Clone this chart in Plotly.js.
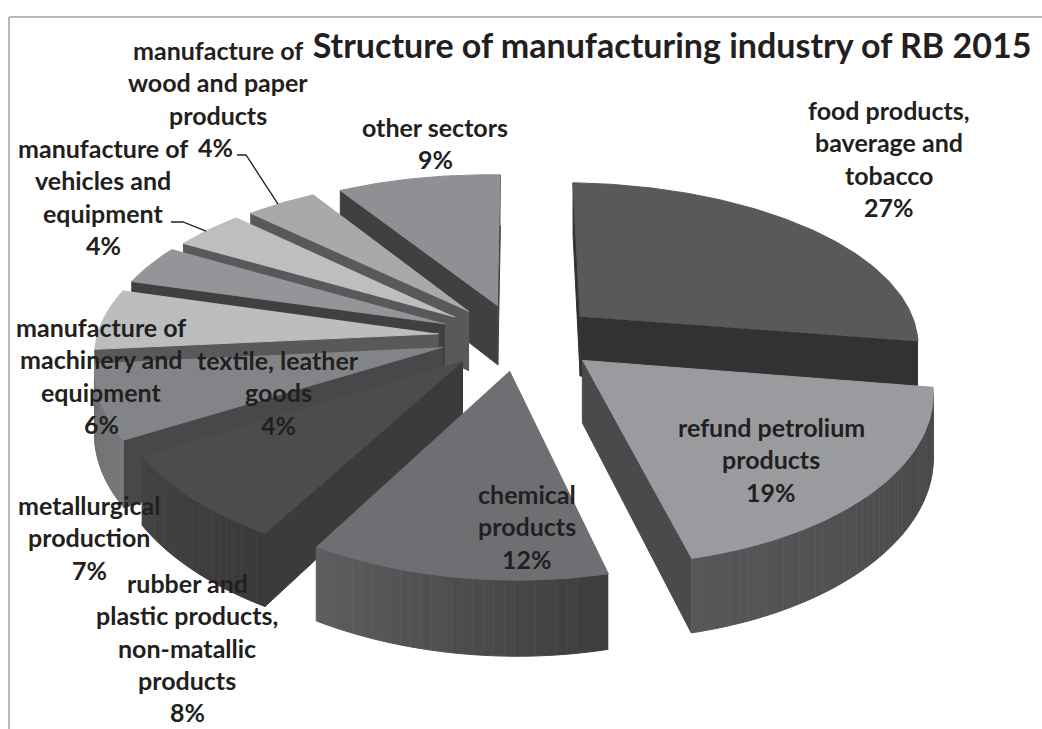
<!DOCTYPE html>
<html>
<head>
<meta charset="utf-8">
<script src="https://cdn.plot.ly/plotly-3.0.1.min.js"></script>
<style>html,body{margin:0;padding:0;background:#fff}#chart{width:1042px;height:729px}</style>
</head>
<body>
<div id="chart"></div>
<script>
// Sector shares in percent, clockwise from twelve o'clock
const sectors = ["food", "refund", "chemical", "rubber", "metallurgical", "machinery", "textile", "vehicles", "wood", "other"];
const shares = [27, 19, 12, 8, 7, 6, 4, 4, 4, 9];

const labelLines = [
  ["food products,", "baverage and", "tobacco"],
  ["refund petrolium", "products"],
  ["chemical", "products"],
  ["rubber and", "plastic products,", "non-matallic", "products"],
  ["metallurgical", "production"],
  ["manufacture of", "machinery and", "equipment"],
  ["textile, leather", "goods"],
  ["manufacture of", "vehicles and", "equipment"],
  ["manufacture of", "wood and paper", "products"],
  ["other sectors"]
];
const labelCenterX = [889, 771, 527, 187, 89, 101, 278, 103, 218, 435];
const labelFirstY = [110, 427, 494, 583, 505, 327, 360, 148, 50, 127];

const topColors = ["#58595b", "#9a9b9e", "#6e6f72", "#4c4c4e", "#838487", "#bcbdbf", "#939598", "#bcbec0", "#a7a9ab", "#8f9093"];
const cutColors = ["#333132", "#4a4a4c", "#4e4e50", "#3b3b3c", "#48484a", "#58595b", "#404041", "#58595b", "#58595b", "#404041"];
const wallFrom = ["#58595b", "#454547", "#3d3d3f", "#3a3a3b", "#77787a", "#9a9b9d", "#77787a", "#9a9b9d", "#88898b", "#77787a"];
const wallTo = ["#58595b", "#565759", "#5e5f61", "#434344", "#6a6b6d", "#9a9b9d", "#77787a", "#9a9b9d", "#88898b", "#77787a"];

// Projection of the tilted disc: centre, radii, slice pull, thickness, perspective in x and y, roll
const cx = 520, cy = 337, rx = 340, ry = 162, pullX = 0.24, pullY = 0.205, thick = 61, perspX = 0.135, perspY = 0.165, roll = 5;
const FONT = "Lato, 'Open Sans', sans-serif";
const INK = "#231f20";

function project(px, py, z) {
  const sx = 1 / (1 - perspX * py), sy = 1 / (1 - perspY * py);
  return [cx + rx * px * sx, cy + (ry * py + thick * z + roll * px) * sy];
}
function rad(a) { return a * Math.PI / 180; }
function hexMix(a, b, t) {
  const n = h => [1, 3, 5].map(i => parseInt(h.substr(i, 2), 16));
  const A = n(a), B = n(b);
  return "rgb(" + A.map((v, i) => Math.round(v + (B[i] - v) * t)).join(",") + ")";
}

const total = shares.reduce((a, b) => a + b, 0);
let running = 0;
const slices = shares.map((v, i) => {
  const start = running / total * 360;
  running += v;
  const end = running / total * 360;
  const mid = (start + end) / 2;
  const ox = pullX * Math.sin(rad(mid)), oy = -pullY * Math.cos(rad(mid));
  return {i, start, end, mid, ox, oy};
});

const rim = (sl, a, z) => project(sl.ox + Math.sin(rad(a)), sl.oy - Math.cos(rad(a)), z);
const apex = (sl, z) => project(sl.ox, sl.oy, z);

function poly(points, color) {
  return {
    type: "scatter", mode: "lines", fill: "toself", fillcolor: color,
    x: points.map(p => p[0]), y: points.map(p => p[1]),
    line: {color: color, width: 1}, hoverinfo: "skip", showlegend: false
  };
}
// Faces wound this way round are turned towards the viewer
function facesViewer(points) {
  let area = 0;
  points.forEach((p, k) => {
    const q = points[(k + 1) % points.length];
    area += p[0] * q[1] - q[0] * p[1];
  });
  return area < 0;
}

const traces = [];
// Far slices are painted first so nearer ones overlap them
slices.slice().sort((a, b) => a.oy - b.oy).forEach(sl => {
  const cut = cutColors[sl.i];
  const startFace = [apex(sl, 0), rim(sl, sl.start, 0), rim(sl, sl.start, 1), apex(sl, 1)];
  const endFace = [rim(sl, sl.end, 0), apex(sl, 0), apex(sl, 1), rim(sl, sl.end, 1)];
  if (facesViewer(startFace)) traces.push(poly(startFace, cut));
  if (facesViewer(endFace)) traces.push(poly(endFace, cut));
  const segs = Math.ceil((sl.end - sl.start) / 1.5);
  for (let k = 0; k < segs; k++) {
    const a0 = sl.start + (sl.end - sl.start) * k / segs;
    const a1 = sl.start + (sl.end - sl.start) * (k + 1) / segs;
    const quad = [rim(sl, a0, 0), rim(sl, a1, 0), rim(sl, a1, 1), rim(sl, a0, 1)];
    if (facesViewer(quad)) traces.push(poly(quad, hexMix(wallFrom[sl.i], wallTo[sl.i], k / segs)));
  }
  const top = [apex(sl, 0)];
  for (let a = sl.start; a < sl.end; a += 1) top.push(rim(sl, a, 0));
  top.push(rim(sl, sl.end, 0));
  traces.push(poly(top, topColors[sl.i]));
});

// Leader lines run from the label to the rim of the two narrow slices
function leader(name, sx, sy, kneeX, fraction) {
  const sl = slices[sectors.indexOf(name)];
  const end = rim(sl, sl.start + (sl.end - sl.start) * fraction, 0);
  traces.push({
    type: "scatter", mode: "lines", x: [sx, kneeX, end[0]], y: [sy, sy, end[1]],
    line: {color: "#231f20", width: 1.3}, hoverinfo: "skip", showlegend: false
  });
}
leader("wood", 237, 155, 246, 0.45);
leader("vehicles", 171, 222, 183, 0.45);

const LINE_STEP = 32.3;
const annotations = [];
function put(text, x, y) {
  annotations.push({
    x, y, xref: "x", yref: "y", text: "<b>" + text + "</b>", showarrow: false, xanchor: "center", yanchor: "middle",
    font: {family: FONT, size: 25, color: INK}
  });
}
slices.forEach(sl => {
  const lines = labelLines[sl.i];
  const x = labelCenterX[sl.i], y0 = labelFirstY[sl.i];
  lines.forEach((t, k) => put(t, x, y0 + k * LINE_STEP));
  put(shares[sl.i] + "%", x - (sectors[sl.i] === "wood" ? 3 : 0), y0 + lines.length * LINE_STEP);
});

const layout = {
  width: 1042, height: 729,
  margin: {l: 0, r: 0, t: 0, b: 0},
  paper_bgcolor: "#fff", plot_bgcolor: "#fff",
  showlegend: false,
  title: {
    text: "<b>Structure of manufacturing industry of RB 2015</b>",
    font: {family: FONT, size: 34, color: INK},
    x: 672 / 1042, xanchor: "center", y: 1 - 46 / 729, yanchor: "middle"
  },
  xaxis: {range: [0, 1042], visible: false, fixedrange: true},
  yaxis: {range: [729, 0], visible: false, fixedrange: true},
  annotations,
  shapes: [
    {type: "line", xref: "x", yref: "y", x0: 9, x1: 9, y0: 17, y1: 729, line: {color: "#a0a0a0", width: 1.5}},
    {type: "line", xref: "x", yref: "y", x0: 9, x1: 1042, y0: 17, y1: 17, line: {color: "#a0a0a0", width: 1.5}}
  ]
};

Plotly.newPlot("chart", traces, layout, {displayModeBar: false, staticPlot: true});
</script>
</body>
</html>
